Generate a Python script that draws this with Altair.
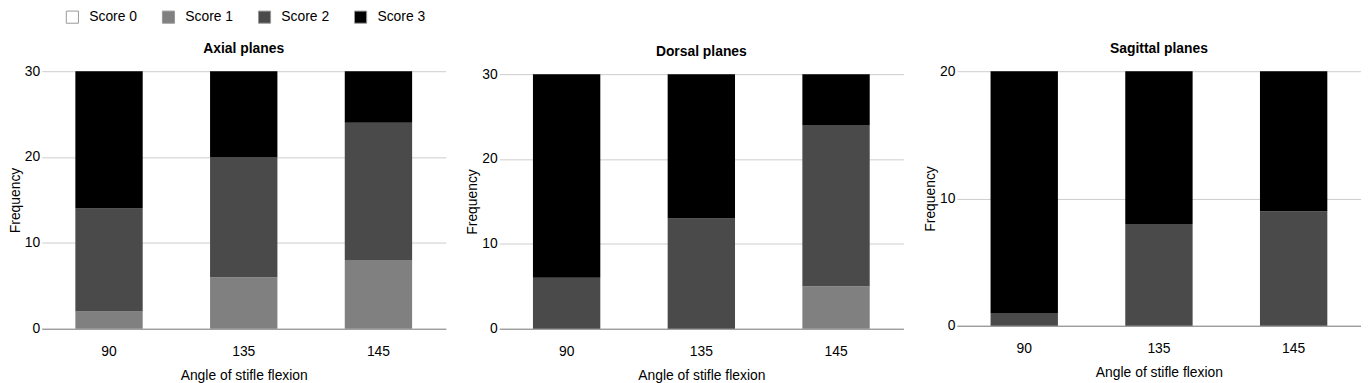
import altair as alt
import pandas as pd

angles = ["90", "135", "145"]
scores = ["Score 0", "Score 1", "Score 2", "Score 3"]
colors = ["#ffffff", "#808080", "#4a4a4a", "#000000"]

axial_s0 = [0, 0, 0]
axial_s1 = [2, 6, 8]
axial_s2 = [12, 14, 16]
axial_s3 = [16, 10, 6]

dorsal_s0 = [0, 0, 0]
dorsal_s1 = [0, 0, 5]
dorsal_s2 = [6, 13, 19]
dorsal_s3 = [24, 17, 6]

sagittal_s0 = [0, 0, 0]
sagittal_s1 = [0, 0, 0]
sagittal_s2 = [1, 8, 9]
sagittal_s3 = [19, 12, 11]

FONT = "Liberation Sans"


def make_df(series):
    rows = []
    for si, vals in enumerate(series):
        for a, v in zip(angles, vals):
            rows.append({"angle": a, "score": scores[si], "order": si, "freq": v})
    return pd.DataFrame(rows)


def panel(title, series, ymax, ticks, height, yrange=None):
    df = make_df(series)
    yscale = alt.Scale(domain=[0, ymax], nice=False)
    if yrange is not None:
        yscale = alt.Scale(domain=[0, ymax], nice=False, range=yrange)
    return (
        alt.Chart(df)
        .mark_bar()
        .encode(
            x=alt.X(
                "angle:N",
                sort=angles,
                scale=alt.Scale(paddingInner=0.5, paddingOuter=0.25),
                axis=alt.Axis(
                    title="Angle of stifle flexion",
                    labelAngle=0,
                    ticks=False,
                    domainColor="#888888",
                    labelPadding=16,
                    titlePadding=10,
                ),
            ),
            y=alt.Y(
                "freq:Q",
                stack="zero",
                scale=yscale,
                axis=alt.Axis(
                    title="Frequency",
                    values=ticks,
                    domain=False,
                    ticks=False,
                    gridColor="#cccccc",
                    labelPadding=2,
                    titlePadding=2,
                ),
            ),
            color=alt.Color(
                "score:N",
                scale=alt.Scale(domain=scores, range=colors),
                legend=alt.Legend(
                    title=None,
                    orient="none",
                    legendX=24,
                    legendY=-62,
                    direction="horizontal",
                    symbolType="square",
                    symbolSize=150,
                    symbolStrokeColor="#999999",
                    symbolStrokeWidth=1,
                    labelFontSize=14,
                    columnPadding=22,
                    labelOffset=10,
                ),
            ),
            order=alt.Order("order:Q", sort="ascending"),
        )
        .properties(
            width=408,
            height=height,
            title=alt.TitleParams(title, fontSize=14, fontWeight="bold", offset=8),
        )
    )


p1 = panel("Axial planes", [axial_s0, axial_s1, axial_s2, axial_s3], 30, [0, 10, 20, 30], 260)
p2 = panel("Dorsal planes", [dorsal_s0, dorsal_s1, dorsal_s2, dorsal_s3], 30, [0, 10, 20, 30], 260, [260, 3])
p3 = panel("Sagittal planes", [sagittal_s0, sagittal_s1, sagittal_s2, sagittal_s3], 20, [0, 10, 20], 257)

chart = (
    alt.hconcat(p1, p2, p3, spacing=20)
    .properties(padding={"left": 0, "top": 0, "right": 0, "bottom": 0})
    .configure(font=FONT)
    .configure_view(stroke=None)
    .configure_axis(labelFontSize=14, titleFontSize=14, titleFontWeight="normal",
                    labelColor="#000000", titleColor="#000000")
    .configure_legend(labelColor="#000000")
    .configure_title(color="#000000", anchor="middle")
)

chart.save("out.html", embed_options={"renderer": "svg", "actions": False})
